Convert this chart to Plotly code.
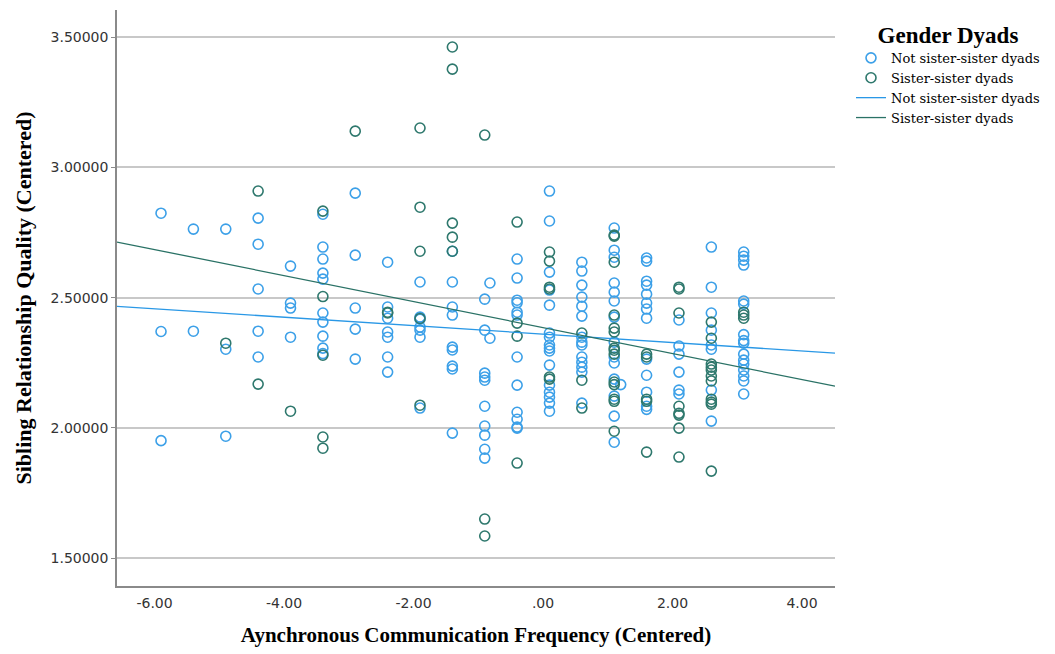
import plotly.graph_objects as go
import numpy as np

# ---- data ----
x_cols = [-5.9, -5.4, -4.9, -4.4, -3.9, -3.4, -2.9, -2.4, -1.9, -1.4, -0.9, -0.82,
          -0.4, 0.1, 0.6, 1.1, 1.2, 1.6, 2.1, 2.6, 3.1]

not_sister_y = [
    [2.824, 2.370, 1.951],
    [2.763, 2.371],
    [2.763, 2.302, 1.968],
    [2.805, 2.705, 2.533, 2.371, 2.272],
    [2.621, 2.479, 2.460, 2.348],
    [2.820, 2.694, 2.648, 2.594, 2.571, 2.441, 2.406, 2.352, 2.306, 2.285],
    [2.901, 2.663, 2.460, 2.379, 2.264],
    [2.636, 2.464, 2.421, 2.368, 2.348, 2.272, 2.214],
    [2.560, 2.425, 2.417, 2.387, 2.375, 2.348, 2.076],
    [2.678, 2.560, 2.464, 2.433, 2.310, 2.299, 2.237, 2.226, 1.980],
    [2.494, 2.375, 2.210, 2.195, 2.183, 2.083, 2.007, 1.972, 1.918, 1.884],
    [2.556, 2.344],
    [2.648, 2.575, 2.490, 2.480, 2.444, 2.433, 2.272, 2.164, 2.060, 2.033, 2.003, 1.999],
    [2.909, 2.794, 2.598, 2.529, 2.471, 2.364, 2.348, 2.318, 2.306, 2.295, 2.241, 2.164,
     2.137, 2.118, 2.095, 2.064],
    [2.636, 2.602, 2.548, 2.502, 2.467, 2.429, 2.348, 2.329, 2.318, 2.272, 2.252, 2.233,
     2.214, 2.095],
    [2.767, 2.682, 2.655, 2.556, 2.521, 2.487, 2.425, 2.329, 2.272, 2.249, 2.187, 2.122,
     2.045, 1.945],
    [2.166],
    [2.652, 2.640, 2.563, 2.548, 2.513, 2.479, 2.456, 2.421, 2.264, 2.202, 2.137, 2.083, 2.071],
    [2.414, 2.314, 2.283, 2.214, 2.145, 2.130],
    [2.694, 2.540, 2.441, 2.375, 2.318, 2.302, 2.145, 2.026],
    [2.675, 2.659, 2.644, 2.625, 2.487, 2.475, 2.358, 2.335, 2.325, 2.283, 2.260, 2.245,
     2.222, 2.199, 2.180, 2.130],
]

sister_y = [
    [],
    [],
    [2.325],
    [2.909, 2.168],
    [2.064],
    [2.832, 2.504, 2.279, 1.965, 1.922],
    [3.139],
    [2.444, 2.441],
    [3.151, 2.847, 2.678, 2.420, 2.087],
    [3.462, 3.377, 2.786, 2.732, 2.678],
    [3.124, 1.650, 1.585],
    [],
    [2.790, 2.402, 2.352, 1.865],
    [2.675, 2.640, 2.540, 2.533, 2.195, 2.187],
    [2.364, 2.183, 2.076],
    [2.740, 2.736, 2.636, 2.433, 2.383, 2.368, 2.306, 2.298, 2.283, 2.176, 2.166, 2.110,
     2.102, 1.987],
    [],
    [2.283, 2.272, 2.110, 2.102, 1.907],
    [2.540, 2.533, 2.441, 2.083, 2.056, 2.049, 1.999, 1.888],
    [2.406, 2.344, 2.245, 2.233, 2.222, 2.199, 2.180, 2.110, 2.099, 2.091, 1.834],
    [2.444, 2.433, 2.421],
]

# fit lines (intercept, slope)
fit_not_sister = (2.360, -0.0162)
fit_sister = (2.385, -0.0499)

x_range = [-6.58, 4.51]
y_range = [1.393, 3.604]
x_ticks = [-6, -4, -2, 0, 2, 4]
x_tick_text = ["-6.00", "-4.00", "-2.00", ".00", "2.00", "4.00"]
y_ticks = [1.5, 2.0, 2.5, 3.0, 3.5]
y_tick_text = ["1.50000", "2.00000", "2.50000", "3.00000", "3.50000"]

names = ["Not sister-sister dyads", "Sister-sister dyads"]
blue = "#3ca0e8"
green = "#2e786d"


def flatten(cols):
    xs, ys = [], []
    for xv, col in zip(x_cols, cols):
        for yv in col:
            xs.append(xv)
            ys.append(yv)
    return xs, ys


bx, by = flatten(not_sister_y)
gx, gy = flatten(sister_y)

fig = go.Figure()
fig.add_trace(go.Scatter(x=bx, y=by, mode="markers", name=names[0],
                         marker=dict(symbol="circle-open", size=10, color=blue,
                                     line=dict(width=1.6, color=blue))))
fig.add_trace(go.Scatter(x=gx, y=gy, mode="markers", name=names[1],
                         marker=dict(symbol="circle-open", size=10, color=green,
                                     line=dict(width=1.6, color=green))))

lx = np.array(x_range)
fig.add_trace(go.Scatter(x=lx, y=fit_not_sister[0] + fit_not_sister[1] * lx, mode="lines",
                         name=names[0], line=dict(color="#2a98e6", width=1.3)))
fig.add_trace(go.Scatter(x=lx, y=fit_sister[0] + fit_sister[1] * lx, mode="lines",
                         name=names[1], line=dict(color="#2a7266", width=1.3)))

W, H = 1047, 646
fig.update_layout(
    width=W, height=H,
    margin=dict(l=109, r=220, t=2, b=68),
    paper_bgcolor="white", plot_bgcolor="white",
    showlegend=True,
    legend=dict(
        title=dict(text="<b>Gender Dyads</b>", side="top center",
                   font=dict(family="Liberation Serif", size=23, color="black")),
        font=dict(family="DejaVu Serif", size=13, color="black"),
        xref="container", yref="container", x=843 / W, y=1 - 5 / H,
        xanchor="left", yanchor="top", tracegroupgap=0, itemwidth=30,
        bgcolor="rgba(0,0,0,0)",
    ),
    xaxis=dict(
        range=x_range, tickvals=x_ticks, ticktext=x_tick_text,
        showgrid=False, zeroline=False, showline=True, linecolor="#8a8a8a", linewidth=1.5,
        ticks="", ticklabelstandoff=3,
        tickfont=dict(family="DejaVu Sans", size=14, color="#333333"),
        title=dict(text="<b>Aynchronous Communication Frequency (Centered)</b>",
                   font=dict(family="Liberation Serif", size=21, color="black"), standoff=18),
    ),
    yaxis=dict(
        range=y_range, tickvals=y_ticks, ticktext=y_tick_text,
        showgrid=True, gridcolor="#c8c8c8", gridwidth=1.5, zeroline=False,
        showline=True, linecolor="#8a8a8a", linewidth=1.5,
        ticks="outside", ticklen=4, tickcolor="#8a8a8a",
        tickfont=dict(family="DejaVu Sans", size=14, color="#333333"),
        title=dict(text="<b>Sibling Relationship Quality (Centered)</b>",
                   font=dict(family="Liberation Serif", size=22, color="black"), standoff=13),
    ),
)

fig.write_html("out.html")
